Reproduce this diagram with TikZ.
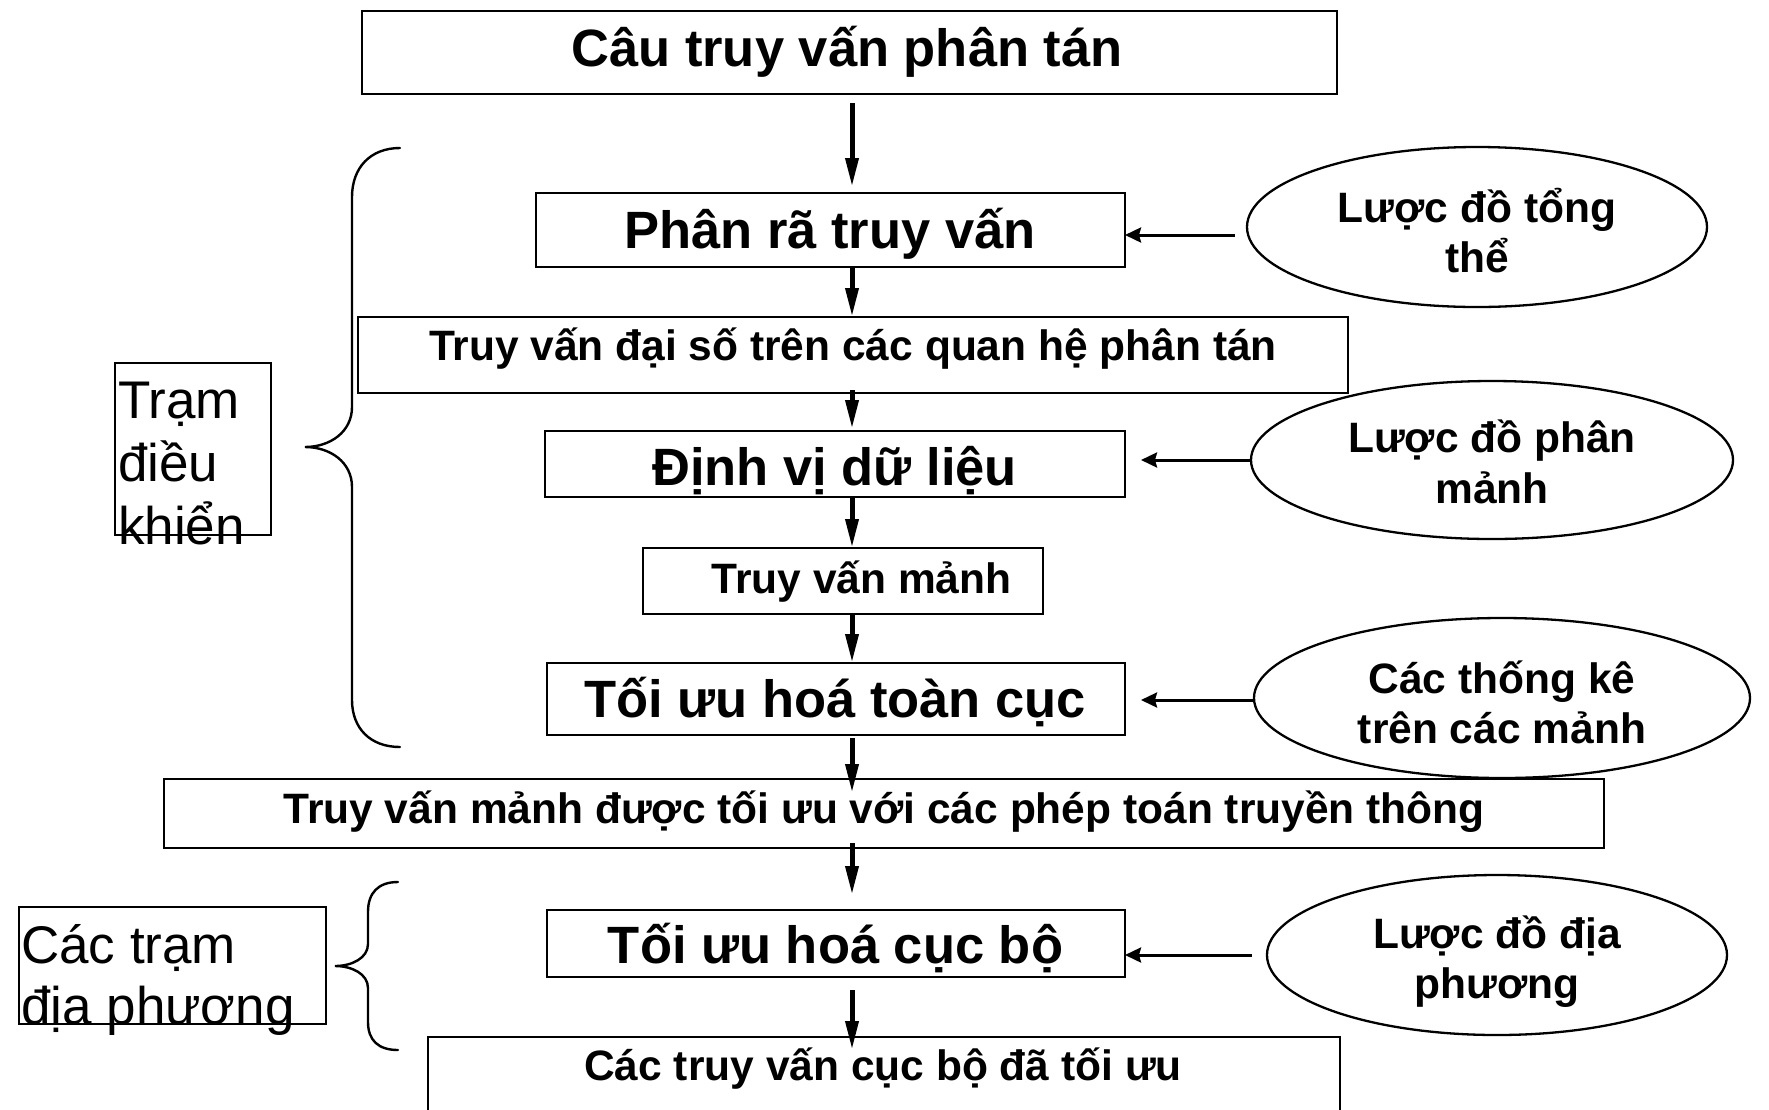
\documentclass[tikz,border=0pt]{standalone}
\usepackage{fontspec}
\setmainfont{Liberation Sans}
\usetikzlibrary{arrows.meta,shapes.geometric}

\begin{document}
\begin{tikzpicture}[x=1pt,y=-1pt,
  box/.style={draw, line width=2.8pt, rectangle, inner sep=0pt, outer sep=0pt},
  tag/.style={draw, line width=2pt, rectangle, inner sep=0pt, outer sep=0pt},
  oval/.style={draw, line width=2.3pt, ellipse, inner sep=0pt, outer sep=0pt},
  big/.style={font=\bfseries\fontsize{52.5}{63}\selectfont, inner sep=0pt, anchor=base},
  small/.style={font=\bfseries\fontsize{42.5}{50}\selectfont, inner sep=0pt, anchor=base},
  plain/.style={font=\fontsize{53}{62}\selectfont, inner sep=0pt, anchor=base west},
  flow/.style={line width=5pt, -{Triangle[length=29pt,width=12.5pt]}},
  feed/.style={line width=3pt, -{Stealth[length=16pt,width=15pt,inset=2pt]}},
  brace/.style={line width=2.4pt, line cap=round},
]
\useasboundingbox (0,0) rectangle (1769,1109);
\fill[white] (0,0) rectangle (1769,1109);

% processing steps
\node[box, minimum width=975pt, minimum height=83pt] (q) at (849.5,52.5) {};
\node[box, minimum width=589pt, minimum height=74pt] (phan) at (830.5,230) {};
\node[box, minimum width=990pt, minimum height=76pt] (daiso) at (853,355) {};
\node[box, minimum width=580pt, minimum height=66pt] (dinhvi) at (835,464) {};
\node[box, minimum width=400pt, minimum height=66pt] (manh) at (843,581) {};
\node[box, minimum width=578pt, minimum height=72pt] (toancuc) at (836,699) {};
\node[box, minimum width=1440pt, minimum height=69pt] (truyen) at (884,813.5) {};
\node[box, minimum width=578pt, minimum height=67pt] (cucbo) at (836,943.5) {};
\node[box, minimum width=912pt, minimum height=102pt] (ketqua) at (884,1088) {};

\node[big] (tq) at (847,66) {Câu truy vấn phân tán};
\node[big] (tphan) at (830,248) {Phân rã truy vấn};
\node[small] (tdaiso) at (853,360) {Truy vấn đại số trên các quan hệ phân tán};
\node[big] (tdinhvi) at (834.5,485) {Định vị dữ liệu};
\node[small] (tmanh) at (861.5,593) {Truy vấn mảnh};
\node[big] (ttoancuc) at (835,717) {Tối ưu hoá toàn cục};
\node[small] (ttruyen) at (884,823) {Truy vấn mảnh được tối ưu với các phép toán truyền thông};
\node[big] (tcucbo) at (835.5,963) {Tối ưu hoá cục bộ};
\node[small] (tketqua) at (883,1080) {Các truy vấn cục bộ đã tối ưu};

% schemas feeding the steps
\node[oval, minimum width=460pt, minimum height=160pt] (e1) at (1477,227) {};
\node[small] (e1a) at (1477,222) {Lược đồ tổng};
\node[small] (e1b) at (1477,272) {thể};
\node[oval, minimum width=482pt, minimum height=158pt] (e2) at (1492,460) {};
\node[small] (e2a) at (1492,452) {Lược đồ phân};
\node[small] (e2b) at (1492,503) {mảnh};
\node[oval, minimum width=496pt, minimum height=160pt] (e3) at (1502,698) {};
\node[small] (e3a) at (1502,693) {Các thống kê};
\node[small] (e3b) at (1502,743) {trên các mảnh};
\node[oval, minimum width=460pt, minimum height=160pt] (e4) at (1497,955) {};
\node[small] (e4a) at (1497,948) {Lược đồ địa};
\node[small] (e4b) at (1497,998) {phương};

% site labels
\node[tag, minimum width=156pt, minimum height=172pt] (tram) at (193,449) {};
\node[plain] (tram1) at (118,418) {Trạm};
\node[plain] (tram2) at (118,481) {điều};
\node[plain] (tram3) at (118,544) {khiển};
\node[tag, minimum width=307pt, minimum height=117pt] (cactram) at (172.5,965.5) {};
\node[plain] (cactram1) at (21,963) {Các trạm};
\node[plain] (cactram2) at (21,1024) {địa phương};

% braces
\draw[brace] (400,148) .. controls (370,148) and (352,168) .. (352,197) -- (352,407)
  .. controls (352,432) and (330,447) .. (305,447)
  .. controls (330,447) and (352,462) .. (352,487) -- (352,700)
  .. controls (352,728) and (370,747) .. (400,747);
\draw[brace] (398,882) .. controls (378,882) and (368,893) .. (368,912) -- (368,944)
  .. controls (368,958) and (352,966) .. (335,966)
  .. controls (352,966) and (368,974) .. (368,988) -- (368,1022)
  .. controls (368,1040) and (378,1050) .. (398,1050);

% main flow
\coordinate (spine) at (852,0);
\draw[flow, shorten <=9pt, shorten >=6pt] (q.south -| spine) -- (phan.north -| spine);
\draw[flow] (phan.south -| spine) -- (daiso.north -| spine);
\draw[flow, shorten <=-3pt, shorten >=2pt] (daiso.south -| spine) -- (dinhvi.north -| spine);
\draw[flow] (dinhvi.south -| spine) -- (manh.north -| spine);
\draw[flow] (manh.south -| spine) -- (toancuc.north -| spine);
\draw[flow, shorten <=3pt, shorten >=-14pt] (toancuc.south -| spine) -- (truyen.north -| spine);
\draw[flow, shorten <=-5pt, shorten >=15pt] (truyen.south -| spine) -- (cucbo.north -| spine);
\draw[flow, shorten <=13pt, shorten >=-13pt] (cucbo.south -| spine) -- (ketqua.north -| spine);

% schema inputs
\coordinate (f1) at ([yshift=-8pt]e1.west);
\draw[feed, shorten <=12pt] (f1) -- (phan.east |- f1);
\draw[feed, shorten >=16pt] (e2.west) -- (dinhvi.east |- e2.west);
\coordinate (f3) at ([yshift=-2pt]e3.west);
\draw[feed, shorten >=16pt] (f3) -- (toancuc.east |- f3);
\draw[feed, shorten <=15pt] (e4.west) -- (cucbo.east |- e4.west);
\end{tikzpicture}
\end{document}
